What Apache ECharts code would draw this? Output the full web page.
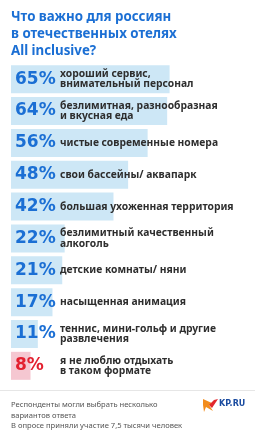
<!DOCTYPE html>
<html><head><meta charset="utf-8">
<script src="https://cdn.jsdelivr.net/npm/echarts@6/dist/echarts.min.js"></script>
<style>html,body{margin:0;padding:0;background:#fff}#c{width:255px;height:440px}</style>
</head><body><div id="c"></div>
<script>
const categories = [
  'хороший сервис,\nвнимательный персонал',
  'безлимитная, разнообразная\nи вкусная еда',
  'чистые современные номера',
  'свои бассейны/ аквапарк',
  'большая ухоженная территория',
  'безлимитный качественный\nалкоголь',
  'детские комнаты/ няни',
  'насыщенная анимация',
  'теннис, мини-гольф и другие\nразвлечения',
  'я не люблю отдыхать\nв таком формате'
];
const values = [65, 64, 56, 48, 42, 22, 21, 17, 11, 8];
const highlight = [false, false, false, false, false, false, false, false, false, true];
const titleText = 'Что важно для россиян\nв отечественных отелях\nAll inclusive?';
const footerLines = [
  'Респонденты могли выбрать несколько',
  'вариантов ответа',
  'В опросе приняли участие 7,5 тысячи человек'
];

const BLUE_BAR = '#cde7f6', BLUE_TXT = '#1b6fd4', RED_BAR = '#f5c7d1', RED_TXT = '#e3202f';
const chart = echarts.init(document.getElementById('c'), null, {renderer: 'canvas'});
const barData = values.map((v, i) => ({
  value: v,
  itemStyle: {color: highlight[i] ? RED_BAR : BLUE_BAR},
  label: {color: highlight[i] ? RED_TXT : BLUE_TXT}
}));
const textData = values.map((v) => ({value: v}));

chart.setOption({
  animation: false,
  title: {
    text: titleText, left: 11, top: 9, padding: 0,
    textStyle: {fontFamily: 'Noto Sans', fontWeight: 'bold', fontSize: 13.3, lineHeight: 17, color: '#1b6fd4'}
  },
  grid: {left: 11, top: 63.25, width: 248, height: 318.5},
  xAxis: {type: 'value', min: 0, max: 100, show: false},
  yAxis: {type: 'category', data: categories, inverse: true, show: false},
  series: [
    {
      type: 'bar', data: barData, barWidth: 28, barGap: '-100%',
      label: {
        show: true, position: [4, '50%'], verticalAlign: 'middle', align: 'left',
        formatter: p => p.value + '%',
        fontFamily: 'DejaVu Sans', fontWeight: 'bold', fontSize: 17
      }
    },
    {
      type: 'bar', data: textData, barWidth: 28, barGap: '-100%',
      itemStyle: {color: 'rgba(0,0,0,0)'},
      label: {
        show: true, position: [49, '50%'], verticalAlign: 'middle', align: 'left',
        formatter: p => categories[p.dataIndex],
        fontFamily: 'Noto Sans', fontWeight: 'bold', fontSize: 10.3, lineHeight: 10.5, color: '#2e2e2e'
      }
    }
  ],
  graphic: [
    {type: 'rect', shape: {x: 0, y: 390, width: 255, height: 1}, style: {fill: '#e6e6e6'}},
    {type: 'text', left: 11, top: 400, style: {text: footerLines.join('\n'), fontFamily: 'Noto Sans', fontSize: 7.6, lineHeight: 10.5, fill: '#555'}},
    {type: 'polygon', shape: {points: [[203,399],[214,404],[209,405],[213,411],[206,407],[204,412],[203,405]]}, style: {fill: '#f28c1c'}},
    {type: 'polygon', shape: {points: [[214,400],[218,399],[212,408],[209,405]]}, style: {fill: '#e2262b'}},
    {type: 'text', left: 219, top: 400, style: {text: 'KP.RU', fontFamily: 'DejaVu Sans', fontWeight: 'bold', fontSize: 8, fill: '#1b4ca0'}}
  ]
});
</script></body></html>
